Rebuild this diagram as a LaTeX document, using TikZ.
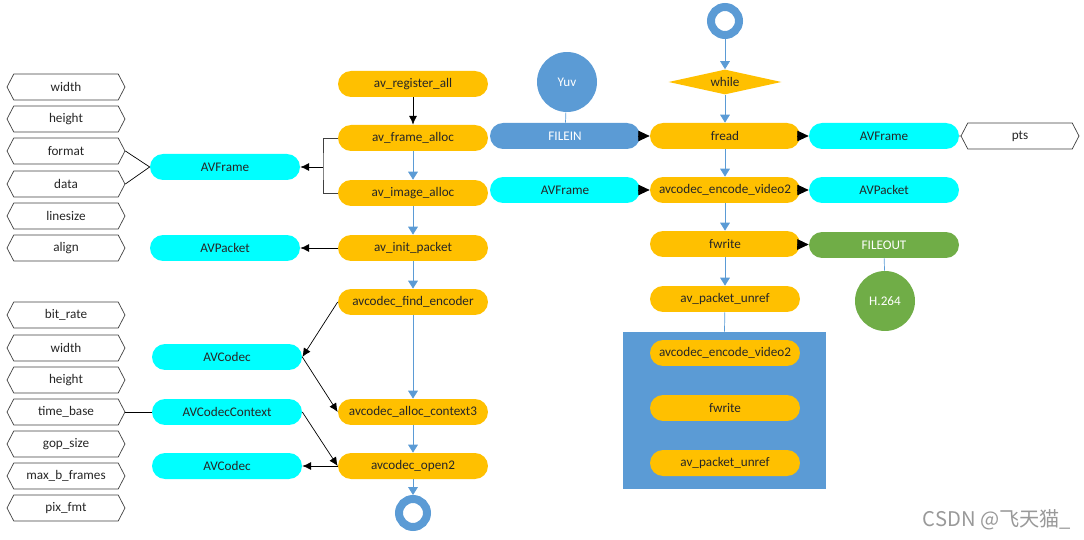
\documentclass[tikz,border=0pt]{standalone}
\usepackage{fontspec}
\setmainfont{Carlito}
\newfontfamily\cjkfont{Noto Sans CJK SC}
\usetikzlibrary{shapes.geometric,shapes.symbols,arrows.meta}
\definecolor{funcorange}{HTML}{FFC000}
\definecolor{objcyan}{HTML}{00FFFF}
\definecolor{fileblue}{HTML}{5B9BD5}
\definecolor{filegreen}{HTML}{70AD47}
\begin{document}
\begin{tikzpicture}
    [
    x=0.02cm, y=-0.02cm,
    every node/.style={font=\fontsize{7.5}{9}\selectfont, text=black!85},
    func/.style={rectangle, rounded corners=0.26cm, fill=funcorange, minimum width=3cm, minimum height=0.52cm, inner sep=0pt},
    obj/.style={func, fill=objcyan},
    file/.style={func, fill=fileblue, text=white},
    field/.style={signal, signal to=west and east, signal pointer angle=125, draw=black!75, fill=white, minimum width=2.36cm, minimum height=0.52cm, inner sep=0pt},
    ring/.style={circle, draw=fileblue, line width=0.16cm, fill=white, minimum size=0.56cm, inner sep=0pt},
    disk/.style={circle, fill=fileblue, text=white, minimum size=1.2cm, inner sep=0pt},
    flow/.style={draw=fileblue, -{Triangle[width=5.5pt,length=4.5pt]}},
    call/.style={-{Latex[length=5pt,width=4.5pt]}},
    feed/.style={-{Triangle[width=6pt,length=6.5pt]}}
    ]
    \useasboundingbox (0,0) rectangle (1084,540);
    % AVFrame fields
    \node (fwidth) at (66,87) [field] {width};
    \node (fheight) at (66,119) [field] {height};
    \node (fformat) at (66,151) [field] {format};
    \node (fdata) at (66,184) [field] {data};
    \node (flinesize) at (66,216) [field] {linesize};
    \node (falign) at (66,248) [field] {align};
    % AVCodecContext fields
    \node (cbitrate) at (66,315) [field] {bit\_rate};
    \node (cwidth) at (66,348) [field] {width};
    \node (cheight) at (66,380) [field] {height};
    \node (ctimebase) at (66,412) [field] {time\_base};
    \node (cgopsize) at (66,444) [field] {gop\_size};
    \node (cmaxb) at (66,476) [field] {max\_b\_frames};
    \node (cpixfmt) at (66,508) [field] {pix\_fmt};
    % structures
    \node (avframe) at (225,167) [obj] {AVFrame};
    \node (avpacket) at (225,248) [obj] {AVPacket};
    \node (avcodec) at (227,357) [obj] {AVCodec};
    \node (avctx) at (227,412) [obj] {AVCodecContext};
    \node (avcodec2) at (227,466) [obj] {AVCodec};
    % init column
    \node (reg) at (413,84) [func] {av\_register\_all};
    \node (frame) at (413,138) [func] {av\_frame\_alloc};
    \node (image) at (413,193) [func] {av\_image\_alloc};
    \node (initpkt) at (413,248) [func] {av\_init\_packet};
    \node (findenc) at (413,302) [func] {avcodec\_find\_encoder};
    \node (allocctx) at (413,412) [func] {avcodec\_alloc\_context3};
    \node (open) at (413,466) [func] {avcodec\_open2};
    \node (finish) at (413,513) [ring] {};
    % encode loop
    \node (start) at (725,21) [ring] {};
    \node (loop) at (725,82) [diamond, fill=funcorange, minimum width=2.26cm, minimum height=0.5cm, aspect=4.5, inner sep=0pt] {while};
    \node (fread) at (725,136) [func] {fread};
    \node (encode) at (725,190) [func] {avcodec\_encode\_video2};
    \node (fwrite) at (725,244) [func] {fwrite};
    \node (unref) at (725,299) [func] {av\_packet\_unref};
    % input side
    \node (yuv) at (567,82) [disk] {Yuv};
    \node (filein) at (565,136) [file] {FILEIN};
    \node (avframein) at (565,190) [obj] {AVFrame};
    % output side
    \node (avframeout) at (884,136) [obj] {AVFrame};
    \node (pts) at (1020,136) [field] {pts};
    \node (avpacketout) at (884,190) [obj] {AVPacket};
    \node (fileout) at (884,245) [file, fill=filegreen] {FILEOUT};
    \node (h264) at (885,301) [disk, fill=filegreen] {H.264};
    % flush
    \node (loopbox) at (724.5,410.5) [rectangle, fill=fileblue, minimum width=4.06cm, minimum height=3.14cm] {};
    \node (encode2) at (725,353) [func] {avcodec\_encode\_video2};
    \node (fwrite2) at (725,408) [func] {fwrite};
    \node (unref2) at (725,463) [func] {av\_packet\_unref};
    % connectors, init column
    \draw [call] (reg) to (frame);
    \draw [flow] (frame) to (image);
    \draw [flow] (image) to (initpkt);
    \draw [flow] (initpkt) to (findenc);
    \draw [flow] (findenc) to (allocctx);
    \draw [flow] (allocctx) to (open);
    \draw [flow] (open) to (finish);
    \coordinate (fork) at (323,167);
    \draw [black!75] (frame.west) -| (fork) |- (image.west);
    \draw [call] (fork) to (avframe.east);
    \draw [call] (initpkt.west) to (avpacket.east);
    \draw [call] (findenc.west) to (avcodec.east);
    \draw [call] (avcodec.east) to (allocctx.west);
    \draw [call] (avctx.east) to (open.west);
    \draw [call] (open.west) to (avcodec2.east);
    \draw (fformat.east) to (avframe.west);
    \draw (fdata.east) to (avframe.west);
    \draw (ctimebase.east) to (avctx.west);
    % connectors, encode loop
    \draw [flow] (start) to (loop);
    \draw [flow] (loop) to (fread);
    \draw [flow] (fread) to (encode);
    \draw [flow] (encode) to (fwrite);
    \draw [flow] (fwrite) to (unref);
    \draw [fileblue] (unref) to (loopbox.north);
    \draw [fileblue] (yuv) to (filein);
    \draw [feed] (filein) to (fread);
    \draw [feed] (avframein) to (encode);
    \draw [feed] (fread) to (avframeout);
    \draw [feed] (encode) to (avpacketout);
    \draw [feed] (fwrite) to (fileout);
    \draw (avframeout) to (pts);
    \draw [fileblue] (fileout) to (h264);
    \node (mark) at (997,520) [font=\cjkfont\fontsize{11.5}{13}\selectfont, text=black!40] {CSDN @飞天猫\_};
\end{tikzpicture}
\end{document}
